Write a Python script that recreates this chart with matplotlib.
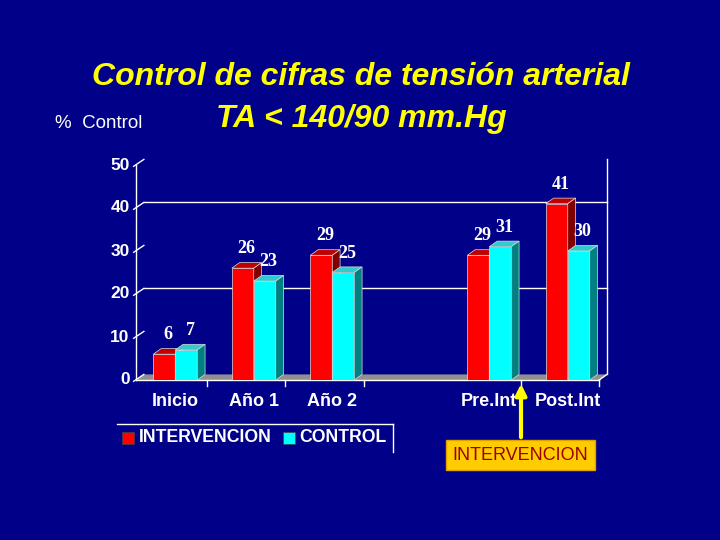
# Bar chart: control de cifras de tensión arterial, intervención vs control (3D look)

import matplotlib.pyplot as plt
from matplotlib.patches import Polygon, Rectangle, FancyBboxPatch
import numpy as np

# Data
categorias = ['Inicio', 'Año 1', 'Año 2', 'Pre.Int', 'Post.Int']
intervencion = [6, 26, 29, 29, 41]
control = [7, 23, 25, 31, 30]
y_ticks = [0, 10, 20, 30, 40, 50]

# Layout
bg = '#000088'
pos = np.array([0, 1, 2, 4, 5])   # empty slot between Año 2 and Pre.Int
bw = 0.28                          # bar width
dx, dy = 0.1, 1.3                  # 3D depth offset in data units

series = [
    (intervencion, -bw, ('#FF0000', '#C00000', '#800000')),
    (control, 0.0, ('#00FFFF', '#30CCCC', '#008080')),
]

fig = plt.figure(figsize=(7.2, 5.4), dpi=100, facecolor=bg)
ax = fig.add_axes([136 / 720, 1 - 380 / 540, (607 - 136) / 720, 215 / 540])
ax.set_facecolor(bg)
ax.set_xlim(-0.5, 5.5)
ax.set_ylim(0, 50)
ax.axis('off')

x0, x1 = -0.5, 5.5

# floor
ax.add_patch(Polygon([(x0, 0), (x1 - dx, 0), (x1, dy), (x0 + dx, dy)],
                     closed=True, facecolor='#909090', edgecolor='none',
                     clip_on=False, zorder=1))
# back wall gridlines and right edge
for v in [20, 40]:
    ax.plot([x0 + dx, x1], [v + dy, v + dy], color='white', lw=1, zorder=1, clip_on=False)
ax.plot([x1, x1], [dy, 50 + dy], color='white', lw=1, zorder=1, clip_on=False)
ax.plot([x1 - dx, x1], [0, dy], color='white', lw=1, zorder=1, clip_on=False)

# y axis, ticks and labels
ax.plot([x0, x0], [0, 50], color='white', lw=1, zorder=2, clip_on=False)
for v in y_ticks:
    ax.plot([x0 - 0.03, x0 + dx], [v - 0.3, v + dy], color='white', lw=1,
            zorder=2, clip_on=False)
    ax.text(x0 - 0.08, v, str(v), color='white', fontsize=12.5, fontweight='bold',
            family='Liberation Sans', ha='right', va='center')

# front floor edge and category ticks
ax.plot([x0, x1 - dx], [0, 0], color='white', lw=1, zorder=2, clip_on=False)
for b in [0.5, 1.5, 2.5, 4.5, 5.5]:
    ax.plot([b - dx, b - dx], [0, -1.3], color='white', lw=1, zorder=2, clip_on=False)

# bars
for vals, off, (front, top, side) in series:
    for xc, h in zip(pos, vals):
        left = xc + off
        right = left + bw
        ax.add_patch(Rectangle((left, 0), bw, h, facecolor=front,
                               edgecolor='#dddddd', lw=0.5, zorder=3))
        ax.add_patch(Polygon([(left, h), (right, h), (right + dx, h + dy), (left + dx, h + dy)],
                             closed=True, facecolor=top, edgecolor='#dddddd', lw=0.5, zorder=3))
        ax.add_patch(Polygon([(right, 0), (right + dx, dy), (right + dx, h + dy), (right, h)],
                             closed=True, facecolor=side, edgecolor='#dddddd', lw=0.5, zorder=3))
        ax.text(left + bw / 2 + dx / 2, h + 4.5, str(h), color='white', fontsize=13,
                fontweight='bold', family='Liberation Serif', ha='center', va='center',
                zorder=4)

# category labels
for xc, lab in zip(pos, categorias):
    ax.text(xc, -5, lab, color='white', fontsize=13, fontweight='bold',
            family='Liberation Sans', ha='center', va='center')

# titles
fig.text(361 / 720, 1 - 77 / 540, 'Control de cifras de tensión arterial', color='#FFFF00',
         fontsize=23, fontweight='bold', style='italic', family='Liberation Sans',
         ha='center', va='center')
fig.text(361 / 720, 1 - 119 / 540, 'TA < 140/90 mm.Hg', color='#FFFF00',
         fontsize=23, fontweight='bold', style='italic', family='Liberation Sans',
         ha='center', va='center')
fig.text(55 / 720, 1 - 124 / 540, '%  Control', color='white', fontsize=13.5,
         family='Liberation Sans', ha='left', va='center')

# legend (drawn by hand)
fig.add_artist(plt.Line2D([117 / 720, 393 / 720], [1 - 424 / 540, 1 - 424 / 540],
                          color='white', lw=1))
fig.add_artist(plt.Line2D([393 / 720, 393 / 720], [1 - 424 / 540, 1 - 452 / 540],
                          color='white', lw=1))
for sx, tx, col, lab in [(122, 139, '#FF0000', 'INTERVENCION'), (283, 299, '#00FFFF', 'CONTROL')]:
    fig.add_artist(Rectangle((sx / 720, 1 - 444 / 540), 12 / 720, 12 / 540,
                             facecolor=col, edgecolor='#444444', lw=0.5))
    fig.text(tx / 720, 1 - 438 / 540, lab, color='white', fontsize=12.7, fontweight='bold',
             family='Liberation Sans', ha='left', va='center')

# arrow and annotation box
fig.add_artist(FancyBboxPatch((446 / 720, 1 - 470 / 540), 149 / 720, 30 / 540,
                              boxstyle='square,pad=0', facecolor='#FFCC00',
                              edgecolor='#E0A000', lw=1))
fig.text(520 / 720, 1 - 456 / 540, 'INTERVENCION', color='#990000', fontsize=13,
         family='Liberation Sans', ha='center', va='center')
ax.annotate('', xy=(521 / 720, 1 - 381 / 540), xytext=(521 / 720, 1 - 440 / 540),
            xycoords='figure fraction', textcoords='figure fraction',
            arrowprops=dict(arrowstyle='-|>', color='#FFFF00', lw=3,
                            mutation_scale=16))

fig.savefig('out.png', dpi=100, facecolor=bg)
